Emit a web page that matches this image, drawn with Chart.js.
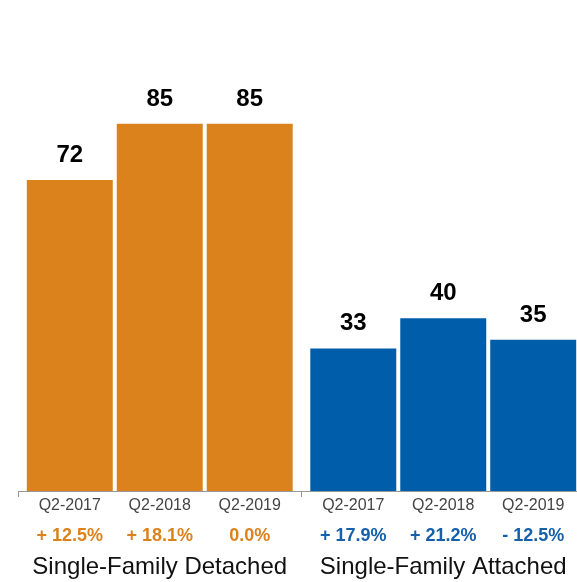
<!DOCTYPE html>
<html>
<head>
<meta charset="utf-8">
<script src="https://cdn.jsdelivr.net/npm/chart.js@4/dist/chart.umd.min.js"></script>
<style>
  html, body { margin: 0; padding: 0; background: #fff; overflow: hidden; }
</style>
</head>
<body>
<canvas id="myChart" width="585" height="582"></canvas>
<script>
const groups = ['Single-Family Detached', 'Single-Family Attached'];
const periods = ['Q2-2017', 'Q2-2018', 'Q2-2019'];
const detached = [72, 85, 85];
const attached = [33, 40, 35];
const detachedChange = ['+ 12.5%', '+ 18.1%', '0.0%'];
const attachedChange = ['+ 17.9%', '+ 21.2%', '- 12.5%'];

const orange = '#DB821C';
const blue = '#005DAA';
const changes = [detachedChange, attachedChange];
const changeColors = ['#DB821C', '#1560AA'];
const font = '"Liberation Sans", Arial, sans-serif';

// value, period and change labels per bar, group name under each group
const barLabels = {
  id: 'barLabels',
  afterDatasetsDraw(chart) {
    const ctx = chart.ctx;
    const bottom = chart.chartArea.bottom;
    ctx.save();
    ctx.textAlign = 'center';
    ctx.textBaseline = 'alphabetic';
    chart.data.datasets.forEach((ds, i) => {
      chart.getDatasetMeta(i).data.forEach((bar, j) => {
        ctx.fillStyle = '#000';
        ctx.font = 'bold 24px ' + font;
        ctx.fillText(ds.data[j], bar.x, bar.y - 18);
        ctx.fillStyle = '#444';
        ctx.font = '16px ' + font;
        ctx.fillText(ds.label, bar.x, bottom + 19);
        ctx.fillStyle = changeColors[j];
        ctx.font = 'bold 18px ' + font;
        ctx.fillText(changes[j][i], bar.x, bottom + 50);
      });
    });
    const x = chart.scales.x;
    ctx.fillStyle = '#111';
    ctx.font = '24px ' + font;
    groups.forEach((g, k) => {
      ctx.fillText(g, x.getPixelForValue(k), bottom + 83);
    });
    ctx.restore();
  }
};

new Chart('myChart', {
  type: 'bar',
  data: {
    labels: groups,
    datasets: periods.map((p, i) => ({
      label: p,
      data: [detached[i], attached[i]],
      backgroundColor: [orange, blue],
      borderWidth: 0,
      barPercentage: 0.9556,
      categoryPercentage: 0.952
    }))
  },
  options: {
    responsive: false,
    animation: false,
    layout: { padding: { left: 18, right: 0, top: 59, bottom: 0 } },
    plugins: {
      legend: { display: false },
      tooltip: { enabled: false }
    },
    scales: {
      y: { display: false, min: 0, max: 100 },
      x: {
        afterFit(scale) { scale.height = 91; },
        border: { display: true, color: '#999', width: 1 },
        grid: { offset: true, drawOnChartArea: false, drawTicks: true, tickLength: 6, color: '#999' },
        ticks: { display: false }
      }
    }
  },
  plugins: [barLabels]
});
</script>
</body>
</html>
